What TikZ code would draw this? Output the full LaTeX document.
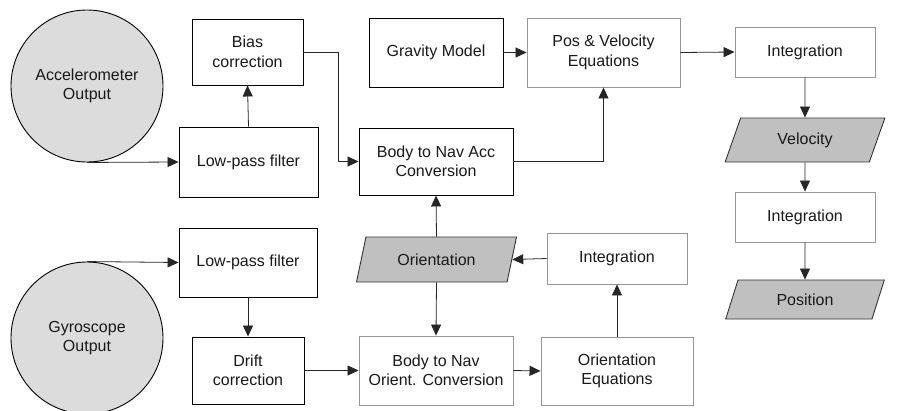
\documentclass[tikz,border=0pt]{standalone}
\usepackage{fontspec}
\setmainfont{Liberation Sans}
\usetikzlibrary{arrows.meta,shapes.geometric}
\definecolor{circfill}{RGB}{220,220,220}
\definecolor{parfill}{RGB}{192,192,192}
\definecolor{lightborder}{RGB}{150,150,150}
\begin{document}
\begin{tikzpicture}[x=1pt,y=-1pt,
  every node/.style={font=\fontsize{16}{19.5}\selectfont, align=center, inner sep=0pt, text=black!90},
  darkbox/.style={draw=black, line width=0.9pt, fill=white, rectangle},
  lightbox/.style={draw=lightborder, line width=0.9pt, fill=white, rectangle},
  sensor/.style={draw=black, line width=0.9pt, fill=circfill, circle, minimum size=152pt},
  dataitem/.style={draw=black!80, line width=0.9pt, fill=parfill, trapezium,
     trapezium left angle=66, trapezium right angle=114, trapezium stretches=true},
  conn/.style={line width=0.8pt, draw=black!85, -{Triangle[length=11pt,width=10pt]}}
]
\useasboundingbox (0,0) rectangle (916,410);
% sensors
\node[sensor] (acc) at (87,86) {Accelerometer\\Output};
\node[sensor] (gyro) at (87,338) {Gyroscope\\Output};
% accelerometer branch
\node[darkbox, minimum width=139pt, minimum height=70pt] (lpfa) at (248.5,162) {Low-pass filter};
\node[darkbox, minimum width=111pt, minimum height=66pt] (bias) at (247.5,52) {Bias\\correction};
\node[darkbox, minimum width=134pt, minimum height=69pt] (grav) at (436,52.5) {Gravity Model};
\node[lightbox, minimum width=153pt, minimum height=69pt] (pos) at (603.5,52.5) {Pos \& Velocity\\Equations};
\node[darkbox, minimum width=154pt, minimum height=67pt] (bna) at (436,161.5) {Body to Nav Acc\\Conversion};
\node[lightbox, minimum width=140pt, minimum height=50pt] (inta) at (805,52) {Integration};
\node[dataitem, minimum width=160pt, minimum height=44pt] (vel) at (805,140) {Velocity};
\node[lightbox, minimum width=140pt, minimum height=50pt] (intb) at (805,217) {Integration};
\node[dataitem, minimum width=159pt, minimum height=39pt] (posn) at (805,299.5) {Position};
% gyroscope branch
\node[darkbox, minimum width=138pt, minimum height=69pt] (lpfg) at (248,262.5) {Low-pass filter};
\node[darkbox, minimum width=112pt, minimum height=67pt] (drift) at (248,370.5) {Drift\\correction};
\node[dataitem, minimum width=161pt, minimum height=45pt] (orient) at (436.5,259.5) {Orientation};
\node[lightbox, minimum width=140pt, minimum height=51pt] (into) at (617,258.5) {Integration};
\node[lightbox, minimum width=152pt, minimum height=68pt] (oeq) at (617,371) {Orientation\\Equations};
\node[lightbox, minimum width=154pt, minimum height=69pt] (bno) at (436,370.5) {Body to Nav\\Orient. Conversion};
% connectors
\draw[conn] (acc.south) -- (lpfa.west);
\draw[conn] (lpfa.north) -- (bias.south);
\draw[conn] (bias.east) -- ++(35,0) |- (bna.west);
\draw[conn] (grav.east) -- (pos.west);
\draw[conn] (bna.east) -| (pos.south);
\draw[conn] (pos.east) -- (inta.west);
\draw[conn] (inta.south) -- (vel.north);
\draw[conn] (vel.south) -- (intb.north);
\draw[conn] (intb.south) -- (posn.north);
\draw[conn] (gyro.north) -- (lpfg.west);
\draw[conn] (lpfg.south) -- (drift.north);
\draw[conn] (drift.east) -- (bno.west);
\draw[conn] (orient.north) -- (bna.south);
\draw[conn] (orient.south) -- (bno.north);
\draw[conn] (bno.east) -- (oeq.west);
\draw[conn] (oeq.north) -- (into.south);
\draw[conn] (into.west) -- (orient.east);
\end{tikzpicture}
\end{document}
